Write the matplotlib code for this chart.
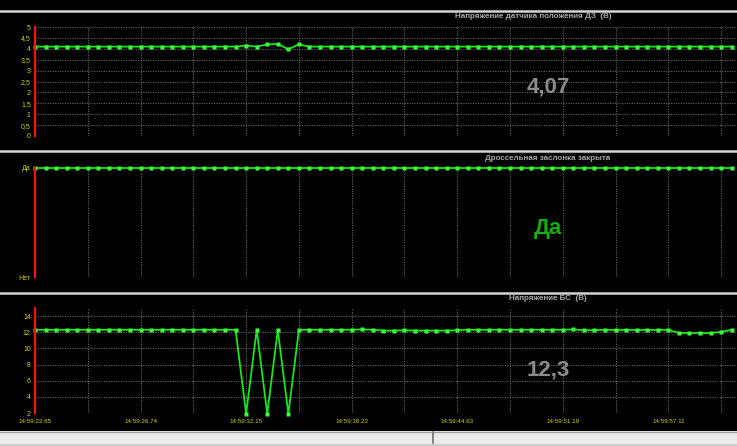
import matplotlib
matplotlib.use("Agg")
import matplotlib.pyplot as plt
from matplotlib.lines import Line2D
from matplotlib.patches import Rectangle

# ---------------- data ----------------
time_labels = ["14:59:22.65", "14:59:26.74", "14:59:32.15", "14:59:38.22",
               "14:59:44.63", "14:59:51.19", "14:59:57.11"]
time_label_idx = [0, 10, 20, 30, 40, 50, 60]

tps_voltage = [4.1, 4.1, 4.1, 4.1, 4.1, 4.1, 4.1, 4.1, 4.1, 4.1,
               4.1, 4.1, 4.1, 4.1, 4.1, 4.1, 4.1, 4.1, 4.1, 4.1,
               4.15, 4.1, 4.2, 4.22, 3.98, 4.2, 4.1, 4.1, 4.1, 4.1,
               4.1, 4.1, 4.1, 4.1, 4.1, 4.1, 4.1, 4.1, 4.1, 4.1,
               4.1, 4.1, 4.1, 4.1, 4.1, 4.1, 4.1, 4.1, 4.1, 4.1,
               4.1, 4.1, 4.1, 4.1, 4.1, 4.1, 4.1, 4.1, 4.1, 4.1,
               4.1, 4.1, 4.1, 4.1, 4.1, 4.1, 4.1]

throttle_closed = [1] * 67  # all samples "Да"

battery_voltage = [12.3, 12.3, 12.3, 12.3, 12.3, 12.3, 12.3, 12.3, 12.3, 12.3,
                   12.3, 12.3, 12.3, 12.3, 12.3, 12.3, 12.3, 12.3, 12.3, 12.3,
                   1.9, 12.3, 1.9, 12.3, 1.9, 12.3, 12.3, 12.3, 12.3, 12.3,
                   12.3, 12.35, 12.3, 12.2, 12.2, 12.25, 12.2, 12.2, 12.2, 12.2,
                   12.25, 12.3, 12.3, 12.3, 12.3, 12.3, 12.3, 12.3, 12.3, 12.3,
                   12.3, 12.35, 12.25, 12.25, 12.3, 12.28, 12.28, 12.28, 12.28, 12.28,
                   12.3, 11.9, 11.9, 11.9, 11.9, 12.05, 12.3]

titles = ["Напряжение датчика положения ДЗ  (В)",
          "Дроссельная заслонка закрыта",
          "Напряжение БС  (В)"]
current_values = ["4,07", "Да", "12,3"]

# ---------------- figure ----------------
W, H = 737, 446
fig = plt.figure(figsize=(W / 100, H / 100), dpi=100)
fig.patch.set_facecolor("black")

def fy(py):
    return 1 - py / H

def fx(px):
    return px / W

left_px = 35
x_max = 66.5
green = "#19e619"
marker_col = "#3cff3c"
grid_col = "#666666"
tick_col = "#d2d200"
title_col = "#a8a8a8"
value_col = "#8c8c8c"

panels = [
    dict(top=27, bottom=136, data=tps_voltage, ylim=(0, 5),
         yticks=[0, 0.5, 1, 1.5, 2, 2.5, 3, 3.5, 4, 4.5, 5],
         yticklabels=["0", "0,5", "1", "1,5", "2", "2,5", "3", "3,5", "4", "4,5", "5"],
         title_y=17, title_x=533, val_y=87, val_col=value_col),
    dict(top=168, bottom=277, data=throttle_closed, ylim=(0, 1),
         yticks=[0, 1], yticklabels=["Нет", "Да"],
         title_y=158, title_x=548, val_y=228, val_col="#10b010"),
    dict(top=308, bottom=413, data=battery_voltage, ylim=(2, 15),
         yticks=[2, 4, 6, 8, 10, 12, 14],
         yticklabels=["2", "4", "6", "8", "10", "12", "14"],
         title_y=299, title_x=548, val_y=370, val_col=value_col),
]

for k, p in enumerate(panels):
    ax = fig.add_axes([fx(left_px), fy(p["bottom"]), 1 - fx(left_px),
                       (p["bottom"] - p["top"]) / H])
    ax.set_facecolor("black")
    xs = list(range(len(p["data"])))
    ax.plot(xs, p["data"], color=green, lw=1.3, marker="s", ms=2.3,
            mec="none", mfc=marker_col, zorder=3, clip_on=False)
    ax.set_xlim(0, x_max)
    ax.set_ylim(*p["ylim"])
    for s in ["top", "right", "bottom"]:
        ax.spines[s].set_visible(False)
    ax.spines["left"].set_color("#ff1010")
    ax.spines["left"].set_linewidth(1.6)
    ax.spines["left"].set_zorder(4)
    ax.set_yticks(p["yticks"])
    ax.set_yticklabels(p["yticklabels"], fontsize=5, color=tick_col,
                       family="Liberation Sans")
    ax.tick_params(axis="y", length=0, pad=3)
    # horizontal grid
    hlines = p["yticks"] if k != 1 else [0]
    for yv in hlines:
        ax.axhline(yv, color=grid_col, lw=0.8, ls=(0, (1, 1.2)), zorder=1)
    # vertical grid every 5 samples
    xt = list(range(5, 67, 5))
    for xv in xt:
        ax.axvline(xv, color=grid_col, lw=0.8, ls=(0, (1, 1.2)), zorder=1)
    if k == 2:
        ax.set_xticks(time_label_idx)
        ax.set_xticklabels(time_labels, fontsize=4.5, color=tick_col,
                           family="Liberation Sans")
        ax.tick_params(axis="x", length=0, pad=4)
    else:
        ax.set_xticks([])
    # title and current value
    fig.text(fx(p["title_x"]), fy(p["title_y"]), titles[k], ha="center",
             va="center", fontsize=5.8, color=title_col, fontweight="bold",
             family="Liberation Sans")
    fig.text(fx(548), fy(p["val_y"]), current_values[k], ha="center",
             va="center", fontsize=16, color=p["val_col"], fontweight="bold",
             family="Liberation Sans")

# separators
for py in [10.5, 151, 293]:
    fig.add_artist(Line2D([0, 1], [fy(py), fy(py)], color="#d4d4d4", lw=1.8,
                          transform=fig.transFigure))

# bottom scrollbar area
fig.add_artist(Rectangle((0, 0), 1, fy(431), transform=fig.transFigure,
                         facecolor="#ececec", edgecolor="none"))
fig.add_artist(Line2D([0, 1], [fy(431.5), fy(431.5)], color="#a0a0a0", lw=1,
                      transform=fig.transFigure))
fig.add_artist(Line2D([0, 1], [fy(444.5), fy(444.5)], color="#c8c8c8", lw=2,
                      transform=fig.transFigure))
fig.add_artist(Line2D([fx(433), fx(433)], [fy(443), fy(432)], color="#707070",
                      lw=1.2, transform=fig.transFigure))

fig.savefig("out.png", dpi=100, facecolor="black")
